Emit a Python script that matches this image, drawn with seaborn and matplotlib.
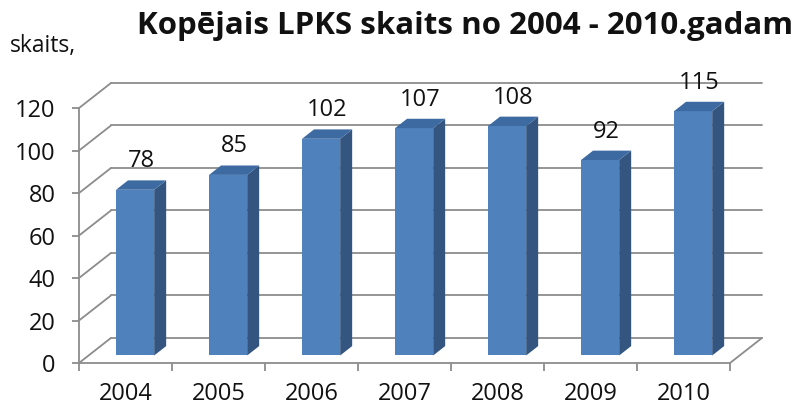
import numpy as np
import pandas as pd

import matplotlib
matplotlib.use("Agg")

import matplotlib.pyplot as plt
from matplotlib.patches import Polygon
import seaborn as sns

# dati
years = ["2004", "2005", "2006", "2007", "2008", "2009", "2010"]
counts = [78, 85, 102, 107, 108, 92, 115]
y_ticks = [0, 20, 40, 60, 80, 100, 120]

title = "Kopējais LPKS skaits no 2004 - 2010.gadam"
y_title = "skaits,"

# 3D izskats (dziļums kategoriju / vērtību vienībās)
DX, DY = 0.344, 11.8
F0, F1 = 0.30, 0.675
BAR_W = 0.41
GRID = "#8c8c8c"
FRONT, SIDE, TOP = "#4F81BD", "#33557F", "#3D6AA1"
FS = 17

sns.set_theme(style="white")
plt.rcParams["font.family"] = ["Open Sans", "DejaVu Sans"]

fig = plt.figure(figsize=(7.98, 4.08), dpi=100)
W, H = 798, 408
ax = fig.add_axes([79 / W, (H - 363) / H, (762 - 79) / W, (363 - 83) / H])

df = pd.DataFrame({"year": years, "count": counts})
sns.barplot(data=df, x="year", y="count", color=FRONT, width=BAR_W,
            saturation=1, ax=ax, zorder=3)

ymax = y_ticks[-1]
ax.set_xlim(-0.5, len(years) - 0.5 + DX)
ax.set_ylim(0, ymax + DY)

# siena un grīda
x_left, x_right = -0.5, len(years) - 0.5
for v in y_ticks:
    ax.plot([x_left + DX, x_right + DX], [v + DY, v + DY], color=GRID, lw=1.3, zorder=1, clip_on=False)
    ax.plot([x_left, x_left + DX], [v, v + DY], color=GRID, lw=1.3, zorder=1, clip_on=False)
ax.plot([x_right, x_right + DX], [0, DY], color=GRID, lw=1.3, zorder=1, clip_on=False)

# stabiņu sānu un augšas skaldnes
for p, v in zip(ax.patches, counts):
    p.set_x(p.get_x() + F0 * DX)
    p.set_y(F0 * DY)
    p.set_edgecolor("none")
    x0, x1 = p.get_x(), p.get_x() + p.get_width()
    b, t = F0 * DY, F0 * DY + v
    ddx, ddy = (F1 - F0) * DX, (F1 - F0) * DY
    ax.add_patch(Polygon([(x1, b), (x1 + ddx, b + ddy), (x1 + ddx, t + ddy), (x1, t)],
                         closed=True, facecolor=SIDE, edgecolor="none", zorder=3, clip_on=False))
    ax.add_patch(Polygon([(x0, t), (x1, t), (x1 + ddx, t + ddy), (x0 + ddx, t + ddy)],
                         closed=True, facecolor=TOP, edgecolor="none", zorder=3, clip_on=False))
    ax.text((x0 + x1) / 2 + ddx / 2, t + ddy + 9, str(v), ha="center", va="center",
            fontsize=FS, color="#111111", zorder=4)

# asis
for s in ["top", "right"]:
    ax.spines[s].set_visible(False)
for s in ["left", "bottom"]:
    ax.spines[s].set_color(GRID)
    ax.spines[s].set_linewidth(1.3)
ax.spines["left"].set_bounds(0, ymax)
ax.spines["bottom"].set_bounds(x_left, x_right)

ax.set_yticks(y_ticks)
ax.set_yticklabels([str(v) for v in y_ticks])
ax.set_xticks(range(len(years)))
ax.set_xticklabels(years)
ax.set_xticks(np.arange(len(years) + 1) - 0.5, minor=True)
ax.tick_params(axis="y", which="major", direction="out", length=5, width=1.3,
               color=GRID, pad=12, labelsize=FS, labelcolor="#111111", left=True)
ax.tick_params(axis="x", which="major", length=0, pad=14, labelsize=FS, labelcolor="#111111")
ax.tick_params(axis="x", which="minor", direction="out", length=5.5, width=1.3,
               color=GRID, bottom=True)
ax.set_xlabel("")
ax.set_ylabel("")

fig.text(465 / W, 1 - 26 / H, title, ha="center", va="center", fontsize=22.5,
         fontweight="bold", color="#111111")
fig.text(10 / W, 1 - 52 / H, y_title, ha="left", va="baseline", fontsize=FS - 0.5, color="#111111")

fig.savefig("out.png", dpi=100)
plt.close(fig)
